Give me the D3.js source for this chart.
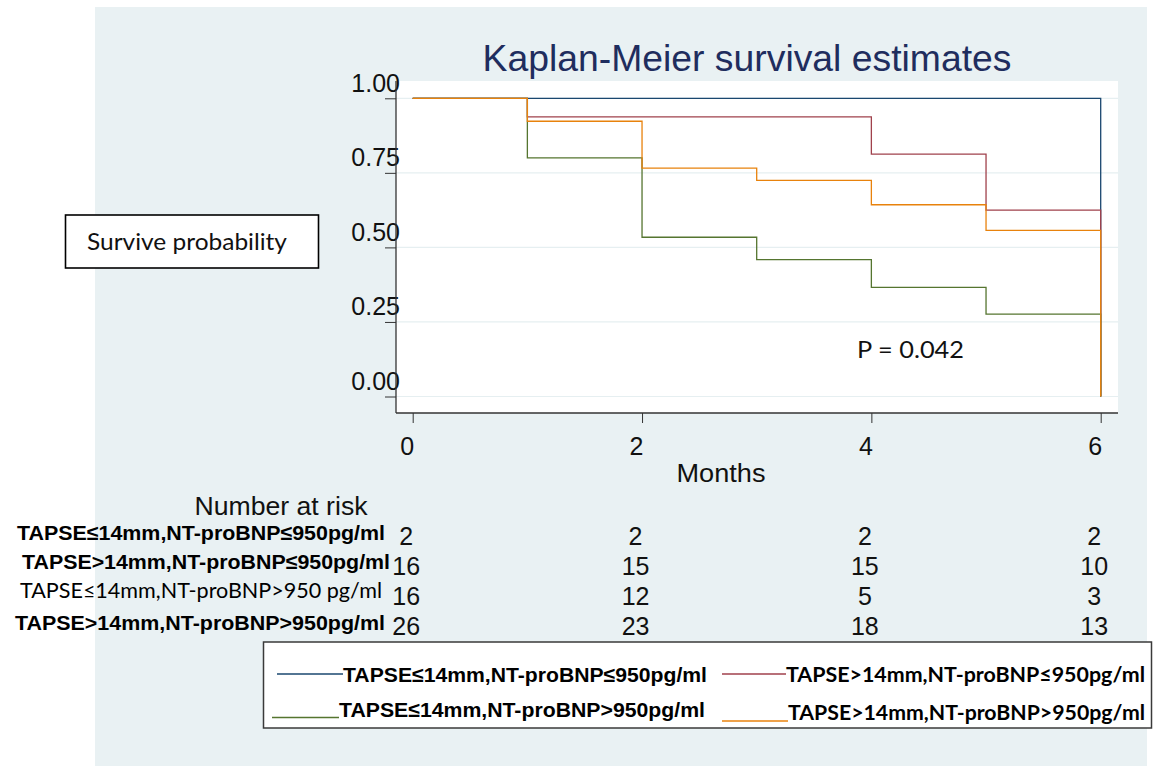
<!DOCTYPE html>
<html>
<head>
<meta charset="utf-8">
<script src="https://cdn.jsdelivr.net/npm/d3@7"></script>
<style>
  html, body { margin: 0; padding: 0; background: #ffffff; }
  svg { display: block; }
</style>
</head>
<body>
<svg id="chart" width="1161" height="766"></svg>
<script>
// Follow-up time points (months) and Kaplan-Meier survival estimates per group
const months = [0, 1, 2, 3, 4, 5, 6];
const groupNames = [
  "TAPSE≤14mm,NT-proBNP≤950pg/ml",
  "TAPSE>14mm,NT-proBNP≤950pg/ml",
  "TAPSE≤14mm,NT-proBNP>950pg/ml",
  "TAPSE>14mm,NT-proBNP>950pg/ml"
];
const survLowTapseLowBnp  = [1, 1,      1,      1,      1,      1,     0];
const survHighTapseLowBnp = [1, 0.9375, 0.9375, 0.9375, 0.8125, 0.625, 0];
const survLowTapseHighBnp = [1, 0.800,  0.534,  0.459,  0.366,  0.276, 0];
const survHighTapseHighBnp= [1, 0.923,  0.766,  0.725,  0.643,  0.557, 0];
const groupColors = ["#1a476f", "#a0414c", "#55752f", "#e8820c"];

// Number at risk table
const riskMonths = [0, 2, 4, 6];
const riskLabels = [
  "TAPSE≤14mm,NT-proBNP≤950pg/ml",
  "TAPSE>14mm,NT-proBNP≤950pg/ml",
  "TAPSE≤14mm,NT-proBNP>950 pg/ml",
  "TAPSE>14mm,NT-proBNP>950pg/ml"
];
const riskLowTapseLowBnp   = [2, 2, 2, 2];
const riskHighTapseLowBnp  = [16, 15, 15, 10];
const riskLowTapseHighBnp  = [16, 12, 5, 3];
const riskHighTapseHighBnp = [26, 23, 18, 13];

const xTicks = [0, 2, 4, 6];
const yTicks = [0, 0.25, 0.5, 0.75, 1];

const series = [survLowTapseLowBnp, survHighTapseLowBnp, survLowTapseHighBnp, survHighTapseHighBnp];
const riskRows = [riskLowTapseLowBnp, riskHighTapseLowBnp, riskLowTapseHighBnp, riskHighTapseHighBnp];

const svg = d3.select("#chart");
const ARIAL = "'Liberation Sans', Arial, sans-serif";
const CALIB = "Lato, 'Open Sans', sans-serif";

// Page background panel
svg.append("rect").attr("x", 95).attr("y", 7).attr("width", 1052).attr("height", 759)
  .attr("fill", "#e9f1f3");

// Plot region
const plot = { left: 396, right: 1118, top: 81, bottom: 413 };
svg.append("rect").attr("x", plot.left).attr("y", plot.top)
  .attr("width", plot.right - plot.left).attr("height", plot.bottom - plot.top)
  .attr("fill", "#ffffff");

const x = d3.scaleLinear().domain([0, 6]).range([412.7, 1100.7]);
const y = d3.scaleLinear().domain([0, 1]).range([396.5, 98.3]);

// Horizontal grid lines
svg.append("g").selectAll("line").data(yTicks).join("line")
  .attr("x1", plot.left).attr("x2", plot.right)
  .attr("y1", d => y(d)).attr("y2", d => y(d))
  .attr("stroke", "#e6eff1").attr("stroke-width", 1.2);

// Title
svg.append("text").attr("x", 747).attr("y", 71).attr("text-anchor", "middle")
  .attr("font-family", ARIAL).attr("font-size", 37).attr("fill", "#1f2d5e")
  .attr("textLength", 529).attr("lengthAdjust", "spacingAndGlyphs")
  .text("Kaplan-Meier survival estimates");

// Y axis
const yAxis = svg.append("g").attr("transform", `translate(${plot.left},0)`)
  .call(d3.axisLeft(y).tickValues(yTicks).tickSize(11).tickFormat(d3.format(".2f")));
yAxis.select(".domain").remove();
yAxis.selectAll(".tick line").attr("stroke", "#333");
yAxis.selectAll(".tick text")
  .attr("x", 4).attr("y", -7).attr("dy", null)
  .attr("font-family", ARIAL).attr("font-size", 25).attr("fill", "#111");
svg.append("line").attr("x1", plot.left).attr("x2", plot.left)
  .attr("y1", plot.top).attr("y2", plot.bottom).attr("stroke", "#333").attr("stroke-width", 1.3);

// X axis
const xAxis = svg.append("g").attr("transform", `translate(0,${plot.bottom})`)
  .call(d3.axisBottom(x).tickValues(xTicks).tickSize(10).tickFormat(d3.format("d")));
xAxis.select(".domain").remove();
xAxis.selectAll(".tick line").attr("stroke", "#333");
xAxis.selectAll(".tick text")
  .attr("x", -6).attr("y", 42).attr("dy", null)
  .attr("font-family", ARIAL).attr("font-size", 25).attr("fill", "#111");
svg.append("line").attr("x1", plot.left).attr("x2", plot.right)
  .attr("y1", plot.bottom).attr("y2", plot.bottom).attr("stroke", "#333").attr("stroke-width", 1.3);

svg.append("text").attr("x", 721).attr("y", 482).attr("text-anchor", "middle")
  .attr("font-family", ARIAL).attr("font-size", 26).attr("fill", "#111")
  .attr("textLength", 89).attr("lengthAdjust", "spacingAndGlyphs")
  .text("Months");

// Survival step curves
const line = d3.line().curve(d3.curveStepAfter).x((d, i) => x(months[i])).y(d => y(d));
svg.append("g").selectAll("path").data(series).join("path")
  .attr("d", d => line(d))
  .attr("fill", "none")
  .attr("stroke", (d, i) => groupColors[i])
  .attr("stroke-width", 1.3);

// Y-axis caption box
svg.append("rect").attr("x", 65.5).attr("y", 215).attr("width", 253).attr("height", 53)
  .attr("fill", "#ffffff").attr("stroke", "#000").attr("stroke-width", 1.6);
svg.append("text").attr("x", 87).attr("y", 250)
  .attr("font-family", CALIB).attr("font-size", 23).attr("fill", "#111")
  .attr("textLength", 200).attr("lengthAdjust", "spacingAndGlyphs")
  .text("Survive probability");

// Log-rank p-value
svg.append("text").attr("x", 857).attr("y", 358)
  .attr("font-family", CALIB).attr("font-size", 24).attr("fill", "#111")
  .attr("textLength", 107).attr("lengthAdjust", "spacingAndGlyphs")
  .text("P = 0.042");

// Number at risk table
svg.append("text").attr("x", 281).attr("y", 515).attr("text-anchor", "middle")
  .attr("font-family", ARIAL).attr("font-size", 26).attr("fill", "#111")
  .attr("textLength", 173).attr("lengthAdjust", "spacingAndGlyphs")
  .text("Number at risk");

const rowLabelPos = [
  { x: 17, y: 540, w: 368, bold: true },
  { x: 22, y: 569, w: 368, bold: true },
  { x: 20, y: 598, w: 362, bold: false },
  { x: 15, y: 630, w: 370, bold: true }
];
const rowNumY = [545, 575, 605, 635];

riskLabels.forEach((lab, i) => {
  const p = rowLabelPos[i];
  svg.append("text").attr("x", p.x).attr("y", p.y)
    .attr("font-family", p.bold ? ARIAL : CALIB)
    .attr("font-weight", p.bold ? "bold" : "normal")
    .attr("font-size", p.bold ? 21 : 21).attr("fill", "#000")
    .attr("textLength", p.w).attr("lengthAdjust", "spacingAndGlyphs")
    .text(lab);
});

riskRows.forEach((row, i) => {
  svg.append("g").selectAll("text").data(row).join("text")
    .attr("x", (d, j) => x(riskMonths[j]) - 6.5)
    .attr("y", rowNumY[i])
    .attr("text-anchor", "middle")
    .attr("font-family", ARIAL).attr("font-size", 25).attr("fill", "#111")
    .text(d => d);
});

// Legend
svg.append("rect").attr("x", 263.5).attr("y", 642).attr("width", 888).attr("height", 86)
  .attr("fill", "#ffffff").attr("stroke", "#3a3a3a").attr("stroke-width", 1.5);

const legendItems = [
  { x1: 277, x2: 343, ly: 674, tx: 343, ty: 682, w: 364, font: ARIAL },
  { x1: 722, x2: 786, ly: 674, tx: 786, ty: 682, w: 359, font: CALIB },
  { x1: 272, x2: 339, ly: 717.5, tx: 339, ty: 717, w: 366, font: ARIAL },
  { x1: 722, x2: 788, ly: 721, tx: 788, ty: 720, w: 357, font: CALIB }
];
legendItems.forEach((it, i) => {
  svg.append("line").attr("x1", it.x1).attr("x2", it.x2).attr("y1", it.ly).attr("y2", it.ly)
    .attr("stroke", groupColors[i]).attr("stroke-width", 1.4);
  svg.append("text").attr("x", it.tx).attr("y", it.ty)
    .attr("font-family", it.font).attr("font-weight", "bold")
    .attr("font-size", 21).attr("fill", "#000")
    .attr("textLength", it.w).attr("lengthAdjust", "spacingAndGlyphs")
    .text(groupNames[i]);
});
</script>
</body>
</html>
